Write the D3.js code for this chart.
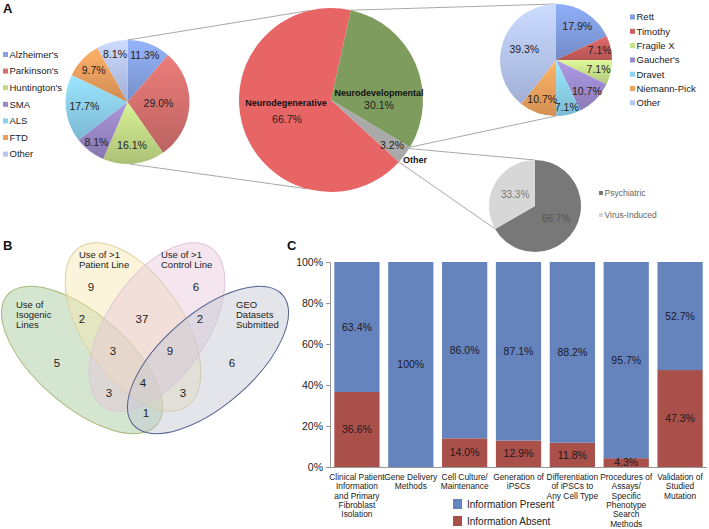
<!DOCTYPE html>
<html><head><meta charset="utf-8">
<script src="https://cdn.jsdelivr.net/npm/d3@7"></script>
<style>body{margin:0;background:#fff}svg{display:block}text{font-family:"Liberation Sans",Arial,Helvetica,sans-serif}</style>
</head><body><svg id="c" width="709" height="529"></svg>
<script>
// ---------- DATA ----------
const degCats = ["Alzheimer's","Parkinson's","Huntington's","SMA","ALS","FTD","Other"];
const degVals = [11.3,29.0,16.1,8.1,17.7,9.7,8.1];
const mainCats = ["Neurodegenerative","Neurodevelopmental","Other"];
const mainVals = [66.7,30.1,3.2];
const devCats = ["Rett","Timothy","Fragile X","Gaucher's","Dravet","Niemann-Pick","Other"];
const devVals = [17.9,7.1,7.1,10.7,7.1,10.7,39.3];
const otherCats = ["Psychiatric","Virus-Induced"];
const otherVals = [66.7,33.3];
const vennSets = [["Use of","Isogenic","Lines"],["Use of >1","Patient Line"],["Use of >1","Control Line"],["GEO","Datasets","Submitted"]];
const vennCounts = [9,6,2,37,2,5,3,9,6,4,3,3,1];
const barCats = [["Clinical Patient","Information","and Primary","Fibroblast","Isolation"],["Gene Delivery","Methods"],["Cell Culture/","Maintenance"],["Generation of","iPSCs"],["Differentiation","of iPSCs to","Any Cell Type"],["Procedures of","Assays/","Specific","Phenotype","Search","Methods"],["Validation of","Studied","Mutation"]];
const presentVals = [63.4,100,86.0,87.1,88.2,95.7,52.7];
const absentVals = [36.6,0,14.0,12.9,11.8,4.3,47.3];
const seriesNames = ["Information Present","Information Absent"];
const yTicks = [0,20,40,60,80,100];

// ---------- STYLE / LAYOUT ----------
const degColors = ["#86a2e2","#d4706e","#c2da86","#9a87c6","#8ccfee","#eb9f5e","#b8c5f0"];
const degLabelK = [0.8,0.5,0.7,0.82,0.7,0.75,0.8];
const mainColors = ["#e86566","#7d9c5e","#a9a9a9"];
const devColors = ["#819de0","#cc6060","#c8e08a","#9d8bd0","#8dd3f0","#eea35e","#b6c6f2"];
const devLabelK = [0.71,0.8,0.78,0.78,0.86,0.75,0.6];
const otherColors = ["#787878","#d7d7d7"];
const rad = d => d*Math.PI/180;

const svg = d3.select("#c");
const defs = svg.append("defs");
const font = "\"Liberation Sans\",Arial,sans-serif";

function grad(id, c){
  const g = defs.append("linearGradient").attr("id",id).attr("x1",0).attr("y1",0).attr("x2",0).attr("y2",1);
  g.append("stop").attr("offset","0%").attr("stop-color",d3.color(c).brighter(0.3).formatHex());
  g.append("stop").attr("offset","100%").attr("stop-color",d3.color(c).darker(0.35).formatHex());
  return `url(#${id})`;
}
function pie(vals, startDeg){
  return d3.pie().sort(null).value(d=>d).startAngle(rad(startDeg)).endAngle(rad(startDeg)+2*Math.PI)(vals);
}
function pt(cx,cy,r,deg){ return [cx + r*Math.sin(rad(deg)), cy - r*Math.cos(rad(deg))]; }

// geometry
const L = {cx:127.5, cy:102, r:62};
const M = {cx:331, cy:100, r:92};
const R = {cx:556, cy:60, r:56};
const O = {cx:535, cy:206, r:46};

const mainStart = 12.5 - 360*mainVals[0]/100 + 360;
const aGreenStart = 12.5, aGreenEnd = 12.5 + 360*mainVals[1]/100, aGrayEnd = aGreenEnd + 360*mainVals[2]/100;
const lines = [
  [pt(L.cx,L.cy,L.r,0), pt(M.cx,M.cy,M.r,-13.5)],
  [pt(L.cx,L.cy,L.r,178), pt(M.cx,M.cy,M.r,195)],
  [pt(M.cx,M.cy,M.r,aGreenStart), pt(R.cx,R.cy,R.r,0)],
  [pt(M.cx,M.cy,M.r,aGreenEnd), pt(R.cx,R.cy,R.r,180)],
  [pt(M.cx,M.cy,M.r,aGreenEnd+1), pt(O.cx,O.cy,O.r,0)],
  [pt(M.cx,M.cy,M.r,aGrayEnd), pt(O.cx,O.cy,O.r,360*otherVals[0]/100)]
];
svg.append("g").selectAll("line").data(lines).join("line")
  .attr("x1",d=>d[0][0]).attr("y1",d=>d[0][1]).attr("x2",d=>d[1][0]).attr("y2",d=>d[1][1])
  .attr("stroke","#a8a8a8").attr("stroke-width",1);

function drawPie(G, vals, colors, startDeg, labelK, fs, labelColor, gradPrefix){
  const arcs = pie(vals, startDeg);
  const g = svg.append("g").attr("transform",`translate(${G.cx},${G.cy})`);
  const arc = d3.arc().innerRadius(0).outerRadius(G.r);
  g.selectAll("path").data(arcs).join("path").attr("d",arc)
    .attr("fill",(d,i)=>gradPrefix ? grad(gradPrefix+i, colors[i]) : colors[i]);
  g.selectAll("text").data(arcs).join("text")
    .attr("transform",(d,i)=>{const a=d3.arc().innerRadius(labelK[i]*G.r).outerRadius(labelK[i]*G.r); return `translate(${a.centroid(d)})`;})
    .attr("text-anchor","middle").attr("dy","0.35em")
    .attr("font-size",fs).attr("fill",(d,i)=>Array.isArray(labelColor)?labelColor[i]:labelColor)
    .text(d=>d.data.toFixed(1)+"%");
  return g;
}
drawPie(L, degVals, degColors, 0, degLabelK, 10.5, "#222", "gL");
drawPie(R, devVals, devColors, 0, devLabelK, 10.5, "#222", "gR");
drawPie(O, otherVals, otherColors, 0, [0.53,0.5], 10, ["#555","#777"], null);

// center pie
const mArcs = pie(mainVals, mainStart);
const mg = svg.append("g").attr("transform",`translate(${M.cx},${M.cy})`);
mg.selectAll("path").data(mArcs).join("path").attr("d",d3.arc().innerRadius(0).outerRadius(M.r)).attr("fill",(d,i)=>mainColors[i]);
const mLab = [{dx:-45,dy:3,pdx:-44,pdy:19},{dx:48,dy:-7,pdx:48,pdy:5},{dx:84,dy:60,pdx:61,pdy:45}];
mArcs.forEach((d,i)=>{
  const p = mLab[i];
  mg.append("text").attr("x",p.dx).attr("y",p.dy).attr("dy","0.35em").attr("text-anchor","middle")
    .attr("font-size",9).attr("font-weight","bold").attr("fill","#111").text(mainCats[i]);
  mg.append("text").attr("x",p.pdx).attr("y",p.pdy).attr("dy","0.35em").attr("text-anchor","middle")
    .attr("font-size",10.5).attr("fill","#222").text(d.data.toFixed(1)+"%");
});

function legend(x, y0, step, cats, colors, sq, fs, col){
  const g = svg.append("g");
  cats.forEach((c,i)=>{
    g.append("rect").attr("x",x).attr("y",y0+i*step-sq/2).attr("width",sq).attr("height",sq).attr("fill",colors[i]);
    g.append("text").attr("x",x+sq+1.5).attr("y",y0+i*step).attr("dy","0.35em").attr("font-size",fs).attr("fill",col).text(c);
  });
}
legend(3, 54.5, 16.6, degCats, degColors, 5, 9.5, "#222");
legend(630, 17, 14.3, devCats, devColors, 5, 9.5, "#222");
legend(599, 193, 22, otherCats, otherColors, 4, 8.5, "#666");

[["A",3,13],["B",3,250],["C",287,250]].forEach(d=>{
  svg.append("text").attr("x",d[1]).attr("y",d[2]).attr("font-size",13).attr("font-weight","bold").attr("fill","#111").text(d[0]);
});

// ---- Venn (panel B)
const axisX = 145;
const ell = [
  {cx:82, cy:360, rx:99, ry:46, rot:41, fill:"#9fc596", stroke:"#a9b87a"},
  {cx:133, cy:327, rx:96, ry:50, rot:56, fill:"#f6e6ae", stroke:"#ddd19c"},
  {cx:2*axisX-133, cy:327, rx:96, ry:50, rot:-56, fill:"#e6c6da", stroke:"#dcc6d6"},
  {cx:2*axisX-82, cy:360, rx:99, ry:46, rot:-41, fill:"#c2c5d2", stroke:"#53638e"}
];
const vg = svg.append("g");
vg.selectAll("ellipse").data(ell).join("ellipse")
  .attr("transform",d=>`translate(${d.cx},${d.cy}) rotate(${d.rot})`)
  .attr("rx",d=>d.rx).attr("ry",d=>d.ry)
  .attr("fill",d=>d.fill).attr("fill-opacity",0.45)
  .attr("stroke",d=>d.stroke).attr("stroke-width",1);
const setLabelPos = [[16,308],[79,258],[161,258],[236,308]];
vennSets.forEach((lines,i)=>{
  const t = vg.append("text").attr("x",setLabelPos[i][0]).attr("y",setLabelPos[i][1]).attr("font-size",9.5).attr("fill","#222");
  lines.forEach((l,j)=>t.append("tspan").attr("x",setLabelPos[i][0]).attr("dy",j?10:0).text(l));
});
const countPos = [[91,287],[196,287],[82,319],[142,319],[200,319],[57,363],[113,351],[170,351],[232,363],[143,383],[109,393],[183,393],[146,413]];
vg.selectAll("text.cnt").data(vennCounts).join("text").attr("class","cnt")
  .attr("x",(d,i)=>countPos[i][0]).attr("y",(d,i)=>countPos[i][1]).attr("dy","0.35em")
  .attr("text-anchor","middle").attr("font-size",11.5).attr("fill","#222").text(d=>d);

// ---- Bar chart (panel C)
const x = d3.scaleBand().domain(d3.range(barCats.length)).range([330,707]).paddingInner(0.16).paddingOuter(0.08);
const y = d3.scaleLinear().domain([0,100]).range([467,262]);
const barColors = ["#6583bd","#aa504b"];
const bg = svg.append("g");
const stack = presentVals.map((p,i)=>({i, a:absentVals[i], p}));
bg.selectAll("rect.abs").data(stack).join("rect").attr("class","abs")
  .attr("x",d=>x(d.i)).attr("width",x.bandwidth()).attr("y",d=>y(d.a)).attr("height",d=>y(0)-y(d.a)).attr("fill",barColors[1]);
bg.selectAll("rect.pre").data(stack).join("rect").attr("class","pre")
  .attr("x",d=>x(d.i)).attr("width",x.bandwidth()).attr("y",d=>y(d.a+d.p)).attr("height",d=>y(d.a)-y(d.a+d.p)).attr("fill",barColors[0]);
const fmt = v => v===100 ? "100%" : v.toFixed(1)+"%";
bg.selectAll("text.pl").data(stack).join("text").attr("class","pl")
  .attr("x",d=>x(d.i)+x.bandwidth()/2).attr("y",d=>(y(d.a)+y(d.a+d.p))/2).attr("dy","0.35em")
  .attr("text-anchor","middle").attr("font-size",10.5).attr("fill","#1a1a2a").text(d=>fmt(d.p));
bg.selectAll("text.al").data(stack.filter(d=>d.a>0)).join("text").attr("class","al")
  .attr("x",d=>x(d.i)+x.bandwidth()/2).attr("y",d=>(y(0)+y(d.a))/2).attr("dy","0.35em")
  .attr("text-anchor","middle").attr("font-size",10.5).attr("fill","#1a1a1a").text(d=>fmt(d.a));

const ya = svg.append("g").attr("transform","translate(330,0)")
  .call(d3.axisLeft(y).tickValues(yTicks).tickFormat(d=>d+"%").tickSize(4).tickPadding(3));
ya.select(".domain").attr("stroke","#999");
ya.selectAll(".tick line").attr("stroke","#999");
ya.selectAll(".tick text").attr("font-size",10.5).attr("fill","#222").attr("font-family",font);
svg.append("line").attr("x1",330).attr("x2",707).attr("y1",y(0)+0.5).attr("y2",y(0)+0.5).attr("stroke","#999");

const xl = svg.append("g");
barCats.forEach((lines,i)=>{
  const t = xl.append("text").attr("x",x(i)+x.bandwidth()/2).attr("y",480).attr("text-anchor","middle").attr("font-size",8.4).attr("fill","#222");
  lines.forEach((l,j)=>t.append("tspan").attr("x",x(i)+x.bandwidth()/2).attr("dy",j?9.3:0).text(l));
});

seriesNames.forEach((n,i)=>{
  svg.append("rect").attr("x",453).attr("y",499+i*17).attr("width",9).attr("height",10).attr("fill",barColors[i]);
  svg.append("text").attr("x",467).attr("y",504+i*17).attr("dy","0.35em").attr("font-size",10).attr("fill","#222").text(n);
});
</script></body></html>
